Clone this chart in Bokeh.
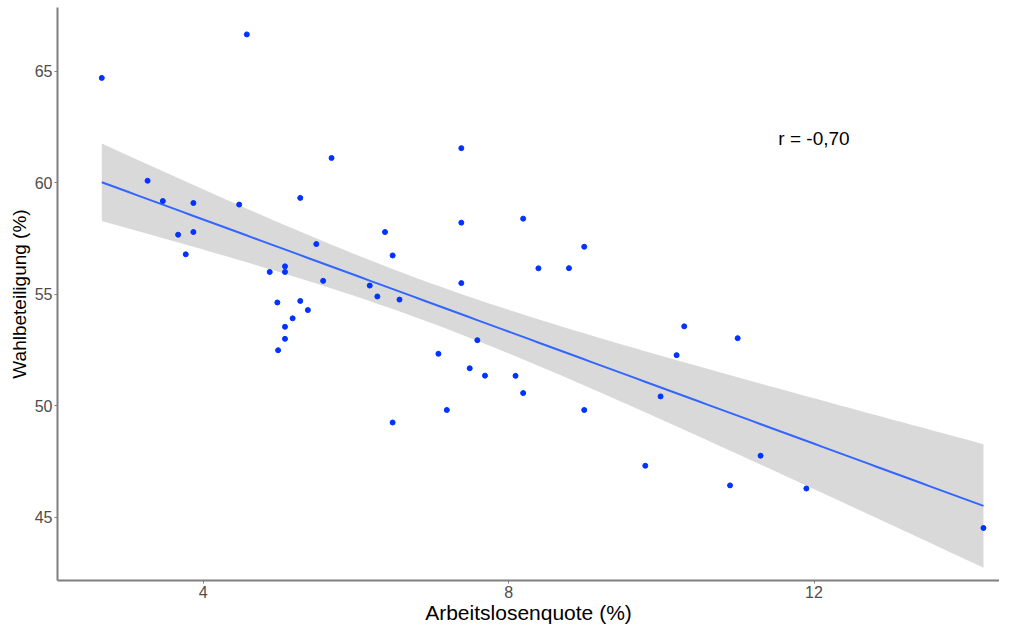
import numpy as np
from bokeh.plotting import figure
from bokeh.models import Range1d, FixedTicker, ColumnDataSource, Label
from bokeh.embed import file_html
from bokeh.resources import INLINE

# --- data ---
arbeitslosenquote = [2.67, 4.57, 3.27, 3.47, 3.87, 4.47, 5.68, 5.27, 3.67, 3.87,
                     3.77, 6.38, 5.48, 6.48, 4.87, 5.07, 5.07, 5.57, 6.18, 6.28,
                     6.57, 4.97, 5.27, 5.37, 5.17, 5.07, 5.07, 4.98, 7.38, 7.38,
                     8.19, 8.99, 8.39, 8.79, 7.38, 7.59, 7.08, 7.49, 7.69, 8.09,
                     8.19, 7.19, 8.99, 6.48, 10.30, 10.20, 9.99, 11.00, 9.79, 11.30,
                     10.90, 11.90, 14.22]
wahlbeteiligung = [64.70, 66.65, 60.09, 59.18, 59.09, 59.02, 61.11, 59.32, 57.67, 57.79,
                   56.79, 57.79, 57.25, 56.74, 56.00, 56.25, 56.00, 55.60, 55.39, 54.90,
                   54.76, 54.63, 54.70, 54.29, 53.92, 53.54, 53.00, 52.49, 61.55, 58.21,
                   58.39, 57.13, 56.16, 56.17, 55.50, 52.94, 52.33, 51.68, 51.35, 51.34,
                   50.57, 49.81, 49.81, 49.25, 53.56, 52.27, 50.42, 53.03, 47.31, 47.76,
                   46.43, 46.29, 44.52]
x_ticks = [4, 8, 12]
y_ticks = [45, 50, 55, 60, 65]
x_title = "Arbeitslosenquote (%)"
y_title = "Wahlbeteiligung (%)"
r_text = "r = -0,70"

# --- linear fit with 95% confidence band (like geom_smooth(method="lm")) ---
x = np.array(arbeitslosenquote)
y = np.array(wahlbeteiligung)
n = len(x)
slope, intercept = np.polyfit(x, y, 1)
xs = np.linspace(x.min(), x.max(), 100)
yhat = intercept + slope * xs
resid = y - (intercept + slope * x)
s = np.sqrt(np.sum(resid ** 2) / (n - 2))
xm = x.mean()
se = s * np.sqrt(1.0 / n + (xs - xm) ** 2 / np.sum((x - xm) ** 2))
tq = 2.0076
upper = yhat + tq * se
lower = yhat - tq * se

FONT = "Liberation Sans"

p = figure(width=999, height=626, output_backend="svg", toolbar_location=None,
           x_range=Range1d(2.09, 14.43), y_range=Range1d(42.165, 67.857),
           min_border_left=57, min_border_top=7, min_border_right=0, min_border_bottom=0)
p.outline_line_color = None
p.xgrid.visible = False
p.ygrid.visible = False
p.background_fill_color = "white"

band_src = ColumnDataSource(dict(x=xs, lower=lower, upper=upper))
p.varea(x="x", y1="lower", y2="upper", source=band_src, fill_color="#d9d9d9", fill_alpha=1.0)
p.line(xs, yhat, line_color="#3366FF", line_width=2)
p.scatter(x, y, size=5, fill_color="#0033ff", line_color="#0033ff")

p.add_layout(Label(x=12.0, y=61.98, text=r_text, text_font=FONT, text_font_size="19px",
                   text_color="black", text_align="center", text_baseline="middle"))

for ax, ticks in ((p.xaxis[0], x_ticks), (p.yaxis[0], y_ticks)):
    ax.ticker = FixedTicker(ticks=ticks)
    ax.axis_line_color = "#7f7f7f"
    ax.axis_line_width = 2
    ax.major_tick_line_color = "#7f7f7f"
    ax.major_tick_in = 0
    ax.major_tick_out = 3
    ax.minor_tick_line_color = None
    ax.major_label_text_font = FONT
    ax.major_label_text_font_size = "16px"
    ax.major_label_text_color = "#4d4d4d"
    ax.major_label_standoff = 2
    ax.axis_label_text_font = FONT
    ax.axis_label_text_font_style = "normal"
    ax.axis_label_text_color = "black"
    ax.axis_label_standoff = 0

p.xaxis[0].axis_label_text_font_size = "21px"
p.yaxis[0].axis_label_text_font_size = "19px"
p.yaxis[0].axis_label_standoff = 2
p.xaxis[0].axis_label = x_title
p.yaxis[0].axis_label = y_title

open("out.html", "w").write(file_html(p, INLINE))
